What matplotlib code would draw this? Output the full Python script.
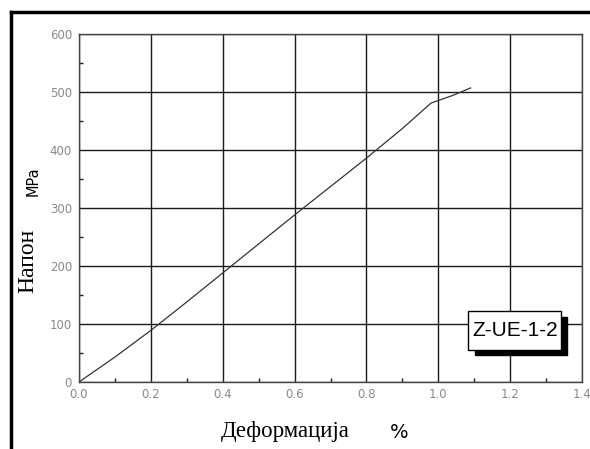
import matplotlib
matplotlib.use("Agg")
import matplotlib.pyplot as plt
from matplotlib.patches import Rectangle
from matplotlib.lines import Line2D
from matplotlib.ticker import MultipleLocator

# DATA
strain = [0.0, 0.1, 0.2, 0.3, 0.4, 0.5, 0.6, 0.7, 0.8, 0.9, 0.98, 1.04, 1.09]
stress = [0, 43, 89, 138, 188, 238, 288, 337, 386, 437, 481, 494, 507]
sample_label = "Z-UE-1-2"
x_label = "Деформација"
x_unit = "%"
y_label = "Напон"
y_unit = "MPa"

fig = plt.figure(figsize=(5.9, 4.49), dpi=100)
ax = fig.add_axes([79 / 590, 1 - 382 / 449, (582 - 79) / 590, (382 - 34) / 449])

ax.plot(strain, stress, color="#333333", lw=0.9)

ax.set_xlim(0, 1.4)
ax.set_ylim(0, 600)
ax.xaxis.set_major_locator(MultipleLocator(0.2))
ax.xaxis.set_minor_locator(MultipleLocator(0.1))
ax.yaxis.set_major_locator(MultipleLocator(100))
ax.yaxis.set_minor_locator(MultipleLocator(50))
ax.xaxis.set_major_formatter(plt.FuncFormatter(lambda v, p: f"{v:.1f}"))
ax.yaxis.set_major_formatter(plt.FuncFormatter(lambda v, p: f"{v:.0f}"))

ax.grid(True, which="major", color="#1a1a1a", lw=1.0)
ax.tick_params(which="major", length=0, labelsize=8.5, labelcolor="#8a8a8a")
ax.tick_params(axis="x", which="major", pad=4)
ax.tick_params(axis="y", which="major", pad=5)
ax.tick_params(which="minor", direction="in", length=3, width=1, color="#222222")
for s in ax.spines.values():
    s.set_color("#444444")
    s.set_linewidth(1.0)

# sample label box with drop shadow
shadow = Rectangle((1.101, 46), 0.258, 66, facecolor="black", edgecolor="black",
                   zorder=4, clip_on=False)
box = Rectangle((1.084, 56), 0.258, 66, facecolor="white", edgecolor="black",
                lw=1.0, zorder=5, clip_on=False)
ax.add_patch(shadow)
ax.add_patch(box)
ax.text(1.213, 89, sample_label, ha="center", va="center", fontsize=15,
        family="Liberation Sans", color="black", zorder=6)

# axis labels
fig.text(28 / 590, 1 - 261 / 449, y_label, rotation=90, ha="center", va="center",
         fontsize=17, family="Liberation Serif")
fig.text(33.5 / 590, 1 - 181 / 449, y_unit, rotation=90, ha="center", va="center",
         fontsize=10.5, family="DejaVu Sans")
fig.text(285 / 590, 1 - 432 / 449, x_label, ha="center", va="center",
         fontsize=16.5, family="Liberation Serif")
fig.text(399 / 590, 1 - 432 / 449, x_unit, ha="center", va="center",
         fontsize=14, family="DejaVu Sans")

# outer frame (top and left edges visible)
fig.add_artist(Line2D([11 / 590, 1.0], [1 - 12 / 449, 1 - 12 / 449],
                      transform=fig.transFigure, color="black", lw=2.5))
fig.add_artist(Line2D([11 / 590, 11 / 590], [0.0, 1 - 12 / 449],
                      transform=fig.transFigure, color="black", lw=2.5))

fig.savefig("out.png", dpi=100)
